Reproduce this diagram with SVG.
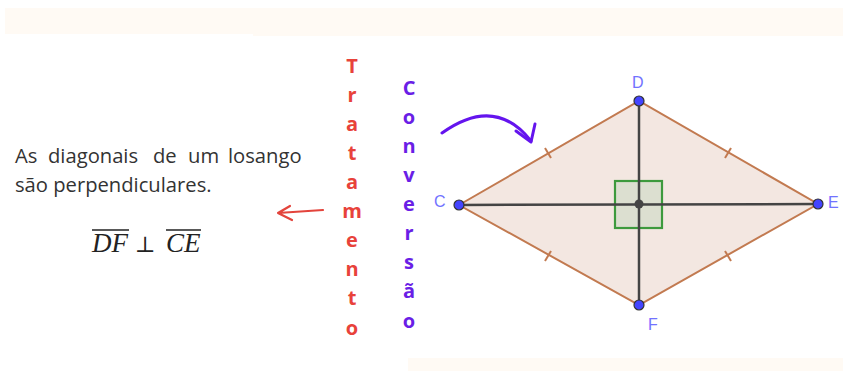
<svg xmlns="http://www.w3.org/2000/svg" width="843" height="371" viewBox="0 0 843 371">
<defs>
<style>
.band{fill:#fffaf4}
.txt{font-family:"Open Sans","Noto Sans","Liberation Sans",sans-serif;font-size:20.2px;fill:#333}
.math{font-family:"Liberation Serif",serif;font-style:italic;font-size:27px;fill:#222}
.mathop{font-family:"DejaVu Serif","Liberation Serif",serif;font-size:22px;fill:#222}
.trat{font-family:"Open Sans","Liberation Sans",sans-serif;font-weight:bold;font-size:20px;fill:#e8423a;text-anchor:middle}
.conv{font-family:"Open Sans","Liberation Sans",sans-serif;font-weight:bold;font-size:20px;fill:#6a1ee6;text-anchor:middle}
.lbl{font-family:"Liberation Sans","Open Sans",sans-serif;font-size:16px;fill:#7272ff}
.side{fill:none;stroke:#c27a50;stroke-width:2}
.tick{stroke:#c27a50;stroke-width:2}
.diag{stroke:#444;stroke-width:2.5}
.pt{fill:#4444ff;stroke:#333;stroke-width:1.2}
</style>
</defs>
<rect width="843" height="371" fill="#fff"/>
<rect class="band" x="5" y="8" width="838" height="26"/>
<rect class="band" x="253" y="8" width="590" height="28"/>
<rect class="band" x="408" y="358" width="435" height="13"/>

<g id="statement">
<text class="txt" y="163"><tspan x="15">As</tspan><tspan x="48">diagonais</tspan><tspan x="153">de</tspan><tspan x="188">um</tspan><tspan x="228">losango</tspan></text>
<text class="txt" x="15" y="192">são perpendiculares.</text>
</g>
<g id="formula">
<text class="math" x="92" y="252">DF</text>
<line x1="92" y1="230" x2="129" y2="230" stroke="#222" stroke-width="1.3"/>
<text class="mathop" x="135" y="252">⊥</text>
<text class="math" x="166" y="252">CE</text>
<line x1="166" y1="230" x2="201" y2="230" stroke="#222" stroke-width="1.3"/>
</g>

<g id="tratamento">
<text class="trat" x="352" y="73">T</text>
<text class="trat" x="352" y="102">r</text>
<text class="trat" x="352" y="131">a</text>
<text class="trat" x="352" y="160">t</text>
<text class="trat" x="352" y="189">a</text>
<text class="trat" x="352" y="218">m</text>
<text class="trat" x="352" y="247">e</text>
<text class="trat" x="352" y="276">n</text>
<text class="trat" x="352" y="305">t</text>
<text class="trat" x="352" y="335">o</text>
</g>
<g id="conversao">
<text class="conv" x="409" y="95">C</text>
<text class="conv" x="409" y="124">o</text>
<text class="conv" x="409" y="153">n</text>
<text class="conv" x="409" y="182">v</text>
<text class="conv" x="409" y="211">e</text>
<text class="conv" x="409" y="240">r</text>
<text class="conv" x="409" y="269">s</text>
<text class="conv" x="409" y="298">ã</text>
<text class="conv" x="409" y="328">o</text>
</g>

<g id="connectors" fill="none" stroke-linecap="round" stroke-linejoin="round">
<path d="M323 210 L278 213 M290 206 L278 213 L292 220" stroke="#e3443c" stroke-width="2.2"/>
<path d="M442 133 Q495 95 531 141" stroke="#6414ee" stroke-width="3"/>
<path d="M516 131 L531 142 L535 124" stroke="#6414ee" stroke-width="3"/>
</g>

<g id="rhombus">
<polygon points="459,205 639,101 818,204 639,305" fill="#f3e7e1"/>
<polygon class="side" points="459,205 639,101 818,204 639,305"/>
<line class="tick" x1="545" y1="148" x2="551" y2="158"/>
<line class="tick" x1="725" y1="158" x2="731" y2="148"/>
<line class="tick" x1="545" y1="261" x2="551" y2="251"/>
<line class="tick" x1="725" y1="251" x2="731" y2="261"/>
<rect x="615" y="181" width="47" height="47" fill="#dcdfd0" stroke="#3d9a3d" stroke-width="2.2"/>
<line class="diag" x1="459" y1="205" x2="818" y2="204"/>
<line class="diag" x1="639" y1="101" x2="639" y2="305"/>
<circle cx="639" cy="204" r="4.5" fill="#444"/>
</g>
<g id="C"><circle class="pt" cx="459" cy="205" r="5"/><text class="lbl" x="434" y="207">C</text></g>
<g id="D"><circle class="pt" cx="639" cy="101" r="5"/><text class="lbl" x="632" y="88">D</text></g>
<g id="E"><circle class="pt" cx="818" cy="204" r="5"/><text class="lbl" x="828" y="208">E</text></g>
<g id="F"><circle class="pt" cx="639" cy="305" r="5"/><text class="lbl" x="648" y="330">F</text></g>
</svg>
